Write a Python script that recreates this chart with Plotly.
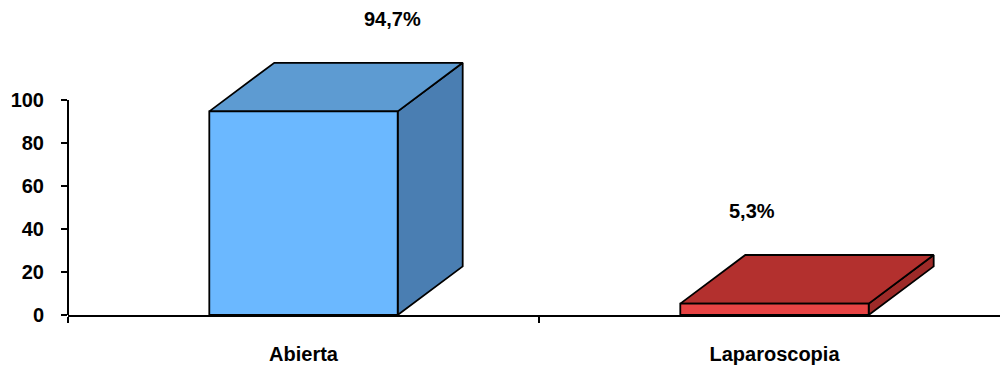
import plotly.graph_objects as go

# Surgical approach shares (%)
categories = ["Abierta", "Laparoscopia"]
values = [94.7, 5.3]

# Face colours per bar: front, top, side
front_colors = ["#6BB8FF", "#E84444"]
top_colors = ["#5D9BD2", "#B3302E"]
side_colors = ["#4A7EB2", "#9D2A28"]

# 3D extrusion geometry (in axis units)
HALF_W = 0.2      # half width of the front face, category units
DEPTH_X = 0.138   # depth offset along x, category units
DEPTH_Y = 22.6    # depth offset along y, value units

# Value label horizontal nudges (category units)
label_dx = [0.188, -0.048]
LABEL_DY = 43.0

FONT = "Liberation Sans, Arial, sans-serif"
OUTLINE = dict(color="black", width=1.8)

fig = go.Figure()


def face(xs, ys, color):
    fig.add_trace(go.Scatter(
        x=xs + [xs[0]], y=ys + [ys[0]], mode="lines", fill="toself",
        fillcolor=color, line=OUTLINE, hoverinfo="skip", showlegend=False,
    ))


for i, v in enumerate(values):
    x0, x1 = i - HALF_W, i + HALF_W
    # side face
    face([x1, x1 + DEPTH_X, x1 + DEPTH_X, x1],
         [0, DEPTH_Y, v + DEPTH_Y, v], side_colors[i])
    # top face
    face([x0, x1, x1 + DEPTH_X, x0 + DEPTH_X],
         [v, v, v + DEPTH_Y, v + DEPTH_Y], top_colors[i])
    # front face
    face([x0, x1, x1, x0], [0, 0, v, v], front_colors[i])

    fig.add_annotation(
        x=i + label_dx[i], y=v + LABEL_DY,
        text=f"{v:.1f}%".replace(".", ","), showarrow=False,
        font=dict(family=FONT, size=20, color="black", weight="bold"),
    )

# Left value axis line (0–100 only)
fig.add_shape(type="line", xref="paper", yref="y", x0=0, x1=0, y0=0, y1=100,
              line=dict(color="black", width=2))

fig.update_layout(
    width=1000, height=365,
    margin=dict(l=68, r=0, t=0, b=47),
    plot_bgcolor="white", paper_bgcolor="white",
    font=dict(family=FONT, color="black"),
    xaxis=dict(
        range=[-0.5, 1.4788],
        tickvals=list(range(len(categories))), ticktext=categories,
        ticks="", showgrid=False, zeroline=False,
        showline=True, linecolor="black", linewidth=2,
        tickfont=dict(family=FONT, size=20, color="black", weight="bold"),
        ticklabelstandoff=20,
        minor=dict(tickvals=[-0.5, 0.5], ticks="outside", ticklen=6,
                   tickwidth=2, tickcolor="black"),
    ),
    yaxis=dict(
        range=[0, 146.5],
        tickvals=[0, 20, 40, 60, 80, 100],
        ticks="outside", ticklen=6, tickwidth=2, tickcolor="black",
        showgrid=False, zeroline=False, showline=False,
        tickfont=dict(family=FONT, size=20, color="black", weight="bold"),
        ticklabelstandoff=13,
    ),
)

fig.write_html("out.html")
